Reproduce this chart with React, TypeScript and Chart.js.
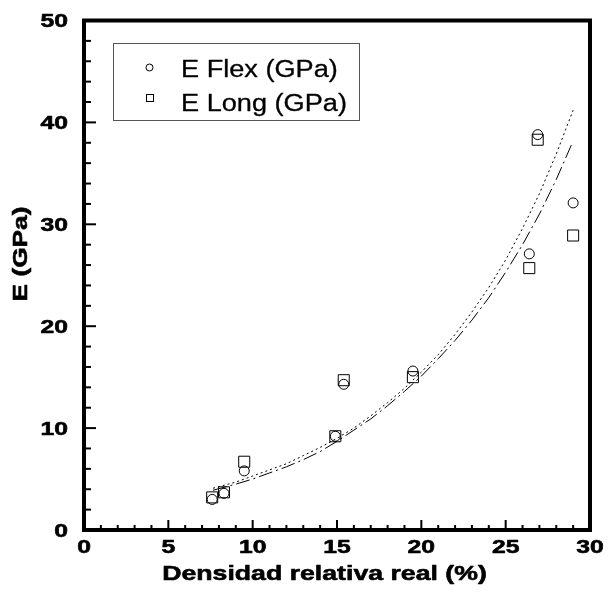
import React, { useEffect, useRef } from 'react';
import { Chart, registerables } from 'chart.js';

Chart.register(...registerables);

// Measured data
const densidad = [7.6, 8.3, 9.5, 14.9, 15.4, 19.5, 26.4, 26.9, 29.0];
const eFlex = [3.0, 3.6, 5.8, 9.2, 14.3, 15.6, 27.1, 38.8, 32.1];
const eLong = [3.2, 3.7, 6.7, 9.2, 14.7, 15.0, 25.7, 38.3, 28.9];

// Fitted curves
const fitFlexX = [7.65, 9, 10, 11, 12, 13, 14, 15, 16, 17, 18, 19, 20, 21, 22, 23, 24, 25, 26, 27, 28, 29.0];
const fitFlexY = [4.1, 4.7, 5.3, 5.9, 6.5, 7.3, 8.1, 9.0, 10.0, 11.2, 12.5, 13.9, 15.5, 17.2, 19.2, 21.4, 23.8, 26.5, 29.6, 33.0, 36.9, 41.2];
const fitLongX = [7.65, 9, 10, 11, 12, 13, 14, 15, 16, 17, 18, 19, 20, 21, 22, 23, 24, 25, 26, 27, 28, 28.9];
const fitLongY = [3.9, 4.5, 5.0, 5.6, 6.2, 6.9, 7.7, 8.7, 9.8, 10.9, 12.2, 13.6, 15.1, 16.8, 18.6, 20.6, 22.8, 25.3, 28.0, 31.0, 34.4, 37.8];

// Axes
const xTicks = [0, 5, 10, 15, 20, 25, 30];
const yTicks = [0, 10, 20, 30, 40, 50];
const xTitle = 'Densidad relativa real (%)';
const yTitle = 'E (GPa)';
const legendLabels = ['E Flex (GPa)', 'E Long (GPa)'];

const FONT = '"Liberation Sans", Arial, Helvetica, sans-serif';

function stretchText(
  ctx: CanvasRenderingContext2D,
  text: string,
  x: number,
  y: number,
  font: string,
  align: CanvasTextAlign,
  sx: number,
  rotate = 0,
  embolden = 0
) {
  ctx.save();
  ctx.translate(x, y);
  if (rotate) ctx.rotate(rotate);
  ctx.scale(sx, 1);
  ctx.font = font;
  ctx.textAlign = align;
  ctx.textBaseline = 'alphabetic';
  ctx.fillStyle = '#000';
  ctx.fillText(text, 0, 0);
  if (embolden > 0) {
    ctx.strokeStyle = '#000';
    ctx.lineWidth = embolden;
    ctx.lineJoin = 'round';
    ctx.strokeText(text, 0, 0);
  }
  ctx.restore();
}

const framePlugin = {
  id: 'frame',
  afterDraw(chart: any) {
    const ctx: CanvasRenderingContext2D = chart.ctx;
    const { left, right, top, bottom } = chart.chartArea;
    const xs = chart.scales.x;
    const ys = chart.scales.y;
    ctx.save();
    ctx.strokeStyle = '#000';
    ctx.lineCap = 'butt';

    // minor & major ticks (inward)
    ctx.lineWidth = 2;
    for (let v = 0; v <= 30; v += 1) {
      const px = xs.getPixelForValue(v);
      const major = v % 5 === 0;
      ctx.beginPath();
      ctx.moveTo(px, bottom);
      ctx.lineTo(px, bottom - (major ? 10 : 5));
      ctx.stroke();
    }
    for (let v = 0; v <= 50; v += 2) {
      const py = ys.getPixelForValue(v);
      const major = v % 10 === 0;
      ctx.beginPath();
      ctx.moveTo(left, py);
      ctx.lineTo(left + (major ? 12 : 7), py);
      ctx.stroke();
    }

    // thick frame
    ctx.lineWidth = 4;
    ctx.lineJoin = 'miter';
    ctx.strokeRect(left, top, right - left, bottom - top);

    // tick labels
    const tickFont = `bold 19px ${FONT}`;
    for (const v of yTicks) {
      const py = ys.getPixelForValue(v);
      stretchText(ctx, String(v), 68, py + 6.8, tickFont, 'right', 1.3, 0, 0.6);
    }
    for (const v of xTicks) {
      const px = xs.getPixelForValue(v);
      stretchText(ctx, String(v), px, 553, tickFont, 'center', 1.3, 0, 0.6);
    }

    // axis titles
    stretchText(ctx, xTitle, 324.5, 580, `bold 21px ${FONT}`, 'center', 1.27, 0, 0.6);
    stretchText(ctx, yTitle, 26.5, 254, `bold 21px ${FONT}`, 'center', 1.25, -Math.PI / 2, 0.6);

    // legend
    ctx.lineWidth = 1;
    ctx.strokeStyle = '#555';
    ctx.strokeRect(113.5, 43.5, 246, 77);
    ctx.strokeStyle = '#000';
    ctx.beginPath();
    ctx.arc(149.5, 67.5, 3.5, 0, Math.PI * 2);
    ctx.stroke();
    ctx.strokeRect(146.5, 94.5, 7, 7);
    stretchText(ctx, legendLabels[0], 181, 77, `23px ${FONT}`, 'left', 1.18, 0, 0.3);
    stretchText(ctx, legendLabels[1], 181, 110.5, `23px ${FONT}`, 'left', 1.18, 0, 0.3);

    ctx.restore();
  },
};

export default function App() {
  const ref = useRef<HTMLCanvasElement | null>(null);

  useEffect(() => {
    if (!ref.current) return;
    const chart = new Chart(ref.current, {
      type: 'scatter',
      data: {
        datasets: [
          {
            label: 'fit flex',
            data: fitFlexX.map((x, i) => ({ x, y: fitFlexY[i] })),
            showLine: true,
            borderColor: '#000',
            borderWidth: 1,
            borderDash: [2, 3],
            pointRadius: 0,
            fill: false,
          },
          {
            label: 'fit long',
            data: fitLongX.map((x, i) => ({ x, y: fitLongY[i] })),
            showLine: true,
            borderColor: '#000',
            borderWidth: 1,
            borderDash: [14, 4, 2, 4],
            pointRadius: 0,
            fill: false,
          },
          {
            label: legendLabels[0],
            data: densidad.map((x, i) => ({ x, y: eFlex[i] })),
            pointStyle: 'circle',
            pointRadius: 5,
            pointBorderWidth: 1,
            borderColor: '#000',
            backgroundColor: 'rgba(0,0,0,0)',
            showLine: false,
          },
          {
            label: legendLabels[1],
            data: densidad.map((x, i) => ({ x, y: eLong[i] })),
            pointStyle: 'rect',
            pointRadius: 7.8,
            pointBorderWidth: 1,
            borderColor: '#000',
            backgroundColor: 'rgba(0,0,0,0)',
            showLine: false,
          },
        ],
      },
      options: {
        responsive: false,
        animation: false,
        devicePixelRatio: 1,
        layout: { padding: { left: 84, top: 20.5, right: 18, bottom: 62 } },
        scales: {
          x: { type: 'linear', min: 0, max: 30, display: false },
          y: { type: 'linear', min: 0, max: 50, display: false },
        },
        plugins: {
          legend: { display: false },
          tooltip: { enabled: false },
        },
      },
      plugins: [framePlugin],
    });
    return () => chart.destroy();
  }, []);

  return (
    <div style={{ position: 'fixed', left: 0, top: 0, width: 608, height: 592, background: '#fff' }}>
      <canvas ref={ref} width={608} height={592} />
    </div>
  );
}
